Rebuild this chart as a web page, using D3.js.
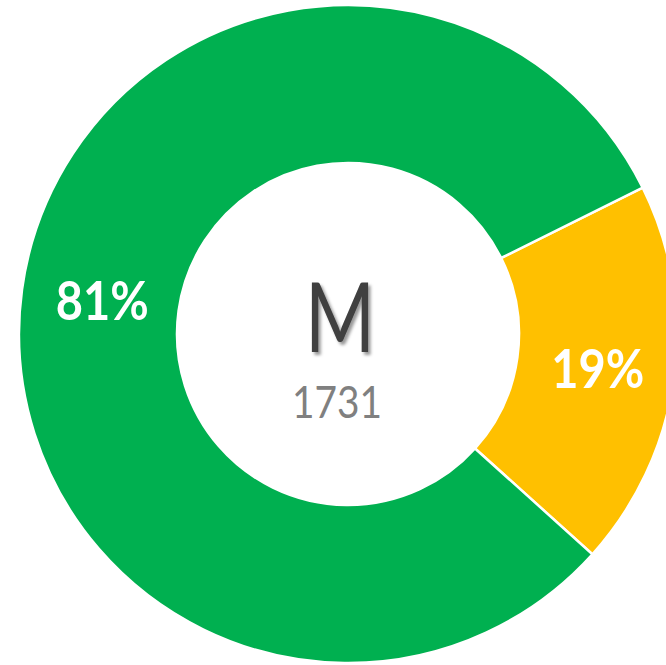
<!DOCTYPE html>
<html>
<head>
<meta charset="utf-8">
<script src="https://cdn.jsdelivr.net/npm/d3@7"></script>
<style>
  html, body { margin: 0; padding: 0; background: #fff; }
  svg { display: block; }
</style>
</head>
<body>
<div id="chart"></div>
<script>
// Share of responses in group "M"
const categories = ["No", "Yes"];
const values = [329, 1402];
const colors = ["#FFC000", "#00B050"];
const groupLabel = "M";

const width = 666, height = 665;
const cx = 348, cy = 334;
const outerR = 329, innerR = 171;
const startDeg = 63.6;

const total = d3.sum(values);
const svg = d3.select("#chart").append("svg")
  .attr("width", width).attr("height", height);

const defs = svg.append("defs");
const shadow = defs.append("filter").attr("id", "shadow")
  .attr("x", "-20%").attr("y", "-20%").attr("width", "140%").attr("height", "140%");
shadow.append("feDropShadow")
  .attr("dx", 2.5).attr("dy", 3).attr("stdDeviation", 1.8)
  .attr("flood-color", "#000").attr("flood-opacity", 0.4);

const pie = d3.pie().sort(null).value(d => d.value)
  .startAngle(startDeg * Math.PI / 180)
  .endAngle(startDeg * Math.PI / 180 + 2 * Math.PI);

const arc = d3.arc().innerRadius(innerR).outerRadius(outerR);
const labelArc = d3.arc().innerRadius((innerR + outerR) / 2).outerRadius((innerR + outerR) / 2);

const data = categories.map((c, i) => ({ name: c, value: values[i], color: colors[i] }));
const arcs = pie(data);

const g = svg.append("g").attr("transform", `translate(${cx},${cy})`);

g.selectAll("path.slice").data(arcs).join("path")
  .attr("class", "slice")
  .attr("d", arc)
  .attr("fill", d => d.data.color)
  .attr("stroke", "#fff")
  .attr("stroke-width", 2.5)
  .attr("stroke-linejoin", "miter");

const fmt = d3.format(".0%");
g.selectAll("text.pct").data(arcs).join("text")
  .attr("class", "pct")
  .attr("x", d => labelArc.centroid(d)[0] + 2)
  .attr("y", d => labelArc.centroid(d)[1] + 20)
  .attr("text-anchor", "middle")
  .attr("font-family", "Lato, 'Open Sans', sans-serif")
  .attr("font-weight", "bold")
  .attr("font-size", 54)
  .attr("fill", "#fff")
  .attr("textLength", 93)
  .attr("lengthAdjust", "spacingAndGlyphs")
  .text(d => fmt(d.data.value / total));

// Centre caption
g.append("text")
  .attr("x", -8).attr("y", 18)
  .attr("text-anchor", "middle")
  .attr("font-family", "Lato, 'Open Sans', sans-serif")
  .attr("font-size", 96)
  .attr("fill", "#404040")
  .attr("textLength", 70)
  .attr("lengthAdjust", "spacingAndGlyphs")
  .attr("filter", "url(#shadow)")
  .text(groupLabel);

g.append("text")
  .attr("x", -11).attr("y", 84)
  .attr("text-anchor", "middle")
  .attr("font-family", "Lato, 'Open Sans', sans-serif")
  .attr("font-size", 45)
  .attr("fill", "#808080")
  .attr("textLength", 90)
  .attr("lengthAdjust", "spacingAndGlyphs")
  .text(d3.format("d")(total));
</script>
</body>
</html>
